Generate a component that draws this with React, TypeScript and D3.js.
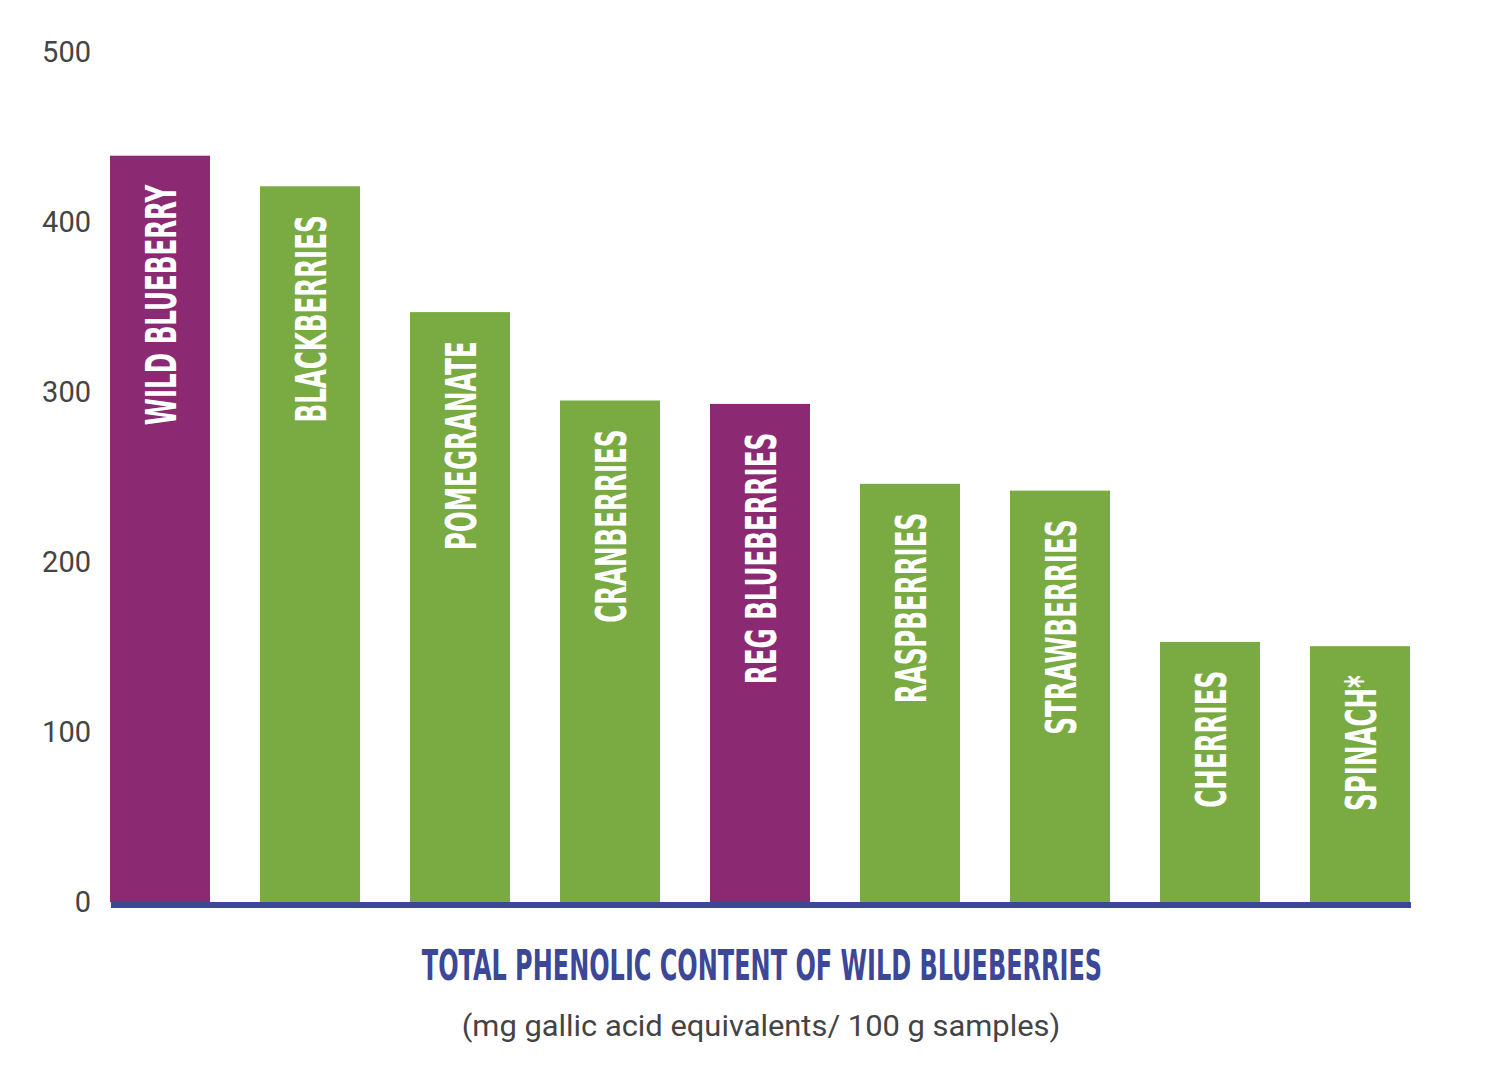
import React from "react";
import * as d3 from "d3";

const categories = [
  "WILD BLUEBERRY",
  "BLACKBERRIES",
  "POMEGRANATE",
  "CRANBERRIES",
  "REG BLUEBERRIES",
  "RASPBERRIES",
  "STRAWBERRIES",
  "CHERRIES",
  "SPINACH*",
];
const values = [439, 421, 347, 295, 293, 246, 242, 153, 150.5];
const highlighted = ["WILD BLUEBERRY", "REG BLUEBERRIES"];
const yTicks = [0, 100, 200, 300, 400, 500];
const title = "TOTAL PHENOLIC CONTENT OF WILD BLUEBERRIES";
const subtitle = "(mg gallic acid equivalents/ 100 g samples)";

const W = 1500;
const H = 1080;
const PURPLE = "#8B2A72";
const GREEN = "#79AB42";
const BLUE = "#3C4797";
const GRAY = "#444444";
const CONDENSED = "'Liberation Sans Narrow', 'DejaVu Sans Condensed', 'Arial Narrow', sans-serif";
const REGULAR = "Roboto, 'Noto Sans', sans-serif";

export default function App() {
  const x = d3.scaleBand<string>().domain(categories).range([110, 1410]).paddingInner(1 / 3).paddingOuter(0);
  const y = d3.scaleLinear().domain([0, 500]).range([902, 52]);
  const data = categories.map((c, i) => ({ c, v: values[i] }));
  const mid = (110 + 1410) / 2;

  return (
    <svg
      width={W}
      height={H}
      viewBox={`0 0 ${W} ${H}`}
      style={{ position: "absolute", left: 0, top: 0, background: "#fff" }}
    >
      <rect width={W} height={H} fill="#fff" />
      {yTicks.map((t) => (
        <text
          key={t}
          x={91}
          y={y(t)}
          dy="0.36em"
          textAnchor="end"
          fontFamily={REGULAR}
          fontSize={29}
          fill={GRAY}
        >
          {t}
        </text>
      ))}
      {data.map((d) => {
        const bx = x(d.c) as number;
        const bw = x.bandwidth();
        const top = y(d.v);
        const color = highlighted.includes(d.c) ? PURPLE : GREEN;
        return (
          <g key={d.c}>
            <rect x={bx} y={top} width={bw} height={y(0) - top} fill={color} />
            <g transform={`translate(${bx + bw / 2 + 1},${top + 29}) rotate(-90) scale(0.65,1)`}>
              <text
                textAnchor="end"
                dy="0.36em"
                fontFamily={CONDENSED}
                fontWeight="bold"
                fontSize={42}
                fill="#fff"
              >
                {d.c}
              </text>
            </g>
          </g>
        );
      })}
      <rect x={111} y={y(0)} width={1300} height={6} fill={BLUE} />
      <g transform={`translate(${mid + 2},980) scale(0.635,1)`}>
        <text textAnchor="middle" fontFamily={CONDENSED} fontWeight="bold" fontSize={42} fill={BLUE}>
          {title}
        </text>
      </g>
      <g transform={`translate(${mid + 1},1036) scale(1.03,1)`}>
        <text textAnchor="middle" fontFamily={REGULAR} fontSize={30} fill={GRAY}>
          {subtitle}
        </text>
      </g>
    </svg>
  );
}
